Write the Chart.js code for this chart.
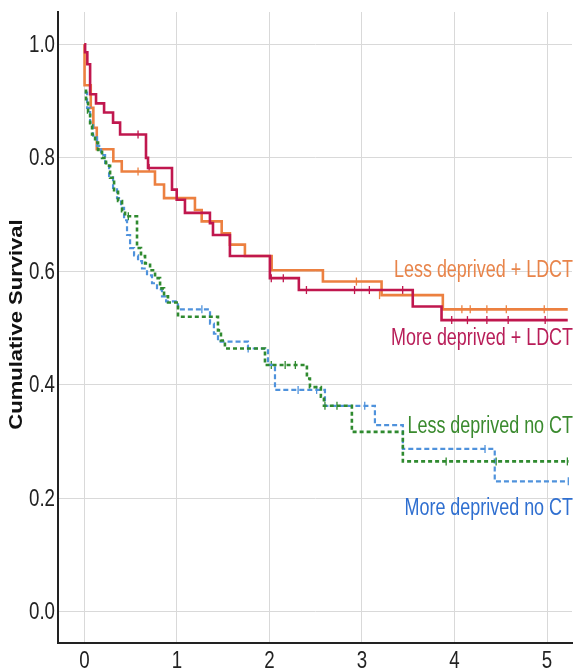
<!DOCTYPE html>
<html>
<head>
<meta charset="utf-8">
<script src="https://cdn.jsdelivr.net/npm/chart.js@4.4.1/dist/chart.umd.min.js"></script>
<style>
  html, body { margin: 0; padding: 0; background: #ffffff; }
  #wrap { width: 578px; height: 668px; }
</style>
</head>
<body>
<div id="wrap"><canvas id="km" width="578" height="668"></canvas></div>
<script>
// Kaplan-Meier survival estimates: event times (years) and survival after each step
const seriesNames = ['Less deprived + LDCT', 'More deprived + LDCT', 'Less deprived no CT', 'More deprived no CT'];

const lessLdctTime = [0, 0.002, 0.069, 0.097, 0.134, 0.313, 0.404, 0.763, 0.861, 1.195, 1.268, 1.484, 1.573, 1.735, 2.024, 2.578, 3.212, 3.874, 5.224];
const lessLdctSurv = [1.0, 0.928, 0.888, 0.853, 0.815, 0.794, 0.776, 0.753, 0.729, 0.708, 0.688, 0.667, 0.647, 0.627, 0.602, 0.582, 0.558, 0.533, 0.533];

const moreLdctTime = [0, 0.008, 0.032, 0.062, 0.126, 0.213, 0.310, 0.386, 0.666, 0.688, 0.947, 0.998, 1.087, 1.357, 1.390, 1.573, 2.005, 2.318, 3.549, 3.860, 5.224];
const moreLdctSurv = [1.0, 0.986, 0.965, 0.912, 0.896, 0.880, 0.862, 0.841, 0.800, 0.782, 0.744, 0.726, 0.703, 0.685, 0.664, 0.627, 0.588, 0.567, 0.538, 0.514, 0.514];

const lessNoCtTime = [0.003, 0.018, 0.040, 0.062, 0.083, 0.116, 0.148, 0.191, 0.234, 0.278, 0.321, 0.364, 0.407, 0.440, 0.569, 0.612, 0.656, 0.710, 0.764, 0.818, 0.861, 0.904, 1.012, 1.444, 1.476, 1.519, 1.952, 2.405, 2.438, 2.556, 2.589, 2.891, 3.442, 5.234];
const lessNoCtSurv = [0.918, 0.897, 0.880, 0.857, 0.841, 0.827, 0.814, 0.800, 0.786, 0.765, 0.743, 0.724, 0.706, 0.697, 0.641, 0.627, 0.614, 0.602, 0.588, 0.570, 0.556, 0.545, 0.520, 0.496, 0.478, 0.464, 0.435, 0.411, 0.396, 0.379, 0.363, 0.317, 0.265, 0.265];

const moreNoCtTime = [0.003, 0.029, 0.062, 0.094, 0.137, 0.180, 0.224, 0.267, 0.310, 0.353, 0.396, 0.429, 0.461, 0.494, 0.537, 0.580, 0.623, 0.677, 0.731, 0.785, 0.839, 0.883, 1.012, 1.358, 1.400, 1.444, 1.768, 1.984, 2.060, 2.600, 3.140, 3.442, 4.435, 5.234];
const moreNoCtSurv = [0.915, 0.888, 0.862, 0.839, 0.821, 0.805, 0.791, 0.768, 0.747, 0.729, 0.712, 0.690, 0.664, 0.641, 0.628, 0.618, 0.605, 0.593, 0.579, 0.568, 0.556, 0.547, 0.533, 0.508, 0.490, 0.476, 0.464, 0.435, 0.391, 0.363, 0.329, 0.287, 0.230, 0.230];

// Censored observations (time, survival at that time)
const lessLdctCensT = [0.58, 2.94, 3.19, 4.08, 4.17, 4.35, 4.56, 4.97];
const lessLdctCensS = [0.776, 0.582, 0.558, 0.533, 0.533, 0.533, 0.533, 0.533];
const moreLdctCensT = [0.58, 0.70, 2.02, 2.15, 2.40, 2.92, 3.08, 3.44, 3.97, 4.14, 4.35, 4.58, 4.98];
const moreLdctCensS = [0.841, 0.782, 0.588, 0.588, 0.567, 0.567, 0.567, 0.567, 0.514, 0.514, 0.514, 0.514, 0.514];
const lessNoCtCensT = [0.475, 2.02, 2.17, 2.28, 2.60, 2.73, 3.91, 4.45, 5.22];
const lessNoCtCensS = [0.697, 0.435, 0.435, 0.435, 0.363, 0.363, 0.265, 0.265, 0.265];
const moreNoCtCensT = [1.27, 1.77, 2.31, 2.51, 3.03, 4.33, 5.23];
const moreNoCtCensS = [0.533, 0.464, 0.391, 0.391, 0.363, 0.287, 0.230];

// Tick values and series label anchors
const xTicks = [0, 1, 2, 3, 4, 5];
const yTicks = [0.0, 0.2, 0.4, 0.6, 0.8, 1.0];
const labelAnchorSurv = [0.602, 0.481, 0.326, 0.181];
const yTitle = 'Cumulative Survival';

const colors = ['#ec8040', '#c0174e', '#2f8a2f', '#4f92dc'];
const labelColors = ['#e8844a', '#b81d58', '#3a8a2e', '#2f6fd0'];

function pts(ts, ss) { return ts.map((t, i) => ({ x: t, y: ss[i] })); }

const curveSets = [
  { t: lessNoCtTime, s: lessNoCtSurv, c: colors[2], dash: [4, 3], w: 2.6 },
  { t: moreNoCtTime, s: moreNoCtSurv, c: colors[3], dash: [5, 3], w: 2.2 },
  { t: moreLdctTime, s: moreLdctSurv, c: colors[1], dash: [], w: 2.6 },
  { t: lessLdctTime, s: lessLdctSurv, c: colors[0], dash: [], w: 2.6 }
];
const censSets = [
  { t: lessNoCtCensT, s: lessNoCtCensS, c: colors[2] },
  { t: moreNoCtCensT, s: moreNoCtCensS, c: colors[3] },
  { t: moreLdctCensT, s: moreLdctCensS, c: colors[1] },
  { t: lessLdctCensT, s: lessLdctCensS, c: colors[0] }
];

const datasets = [];
curveSets.forEach(cs => {
  datasets.push({
    type: 'line',
    data: pts(cs.t, cs.s),
    stepped: 'before',       // hold the previous survival until the next event time
    borderColor: cs.c,
    borderWidth: cs.w,
    borderDash: cs.dash,
    pointRadius: 0,
    fill: false
  });
});
censSets.forEach(cs => {
  datasets.push({
    type: 'scatter',
    data: pts(cs.t, cs.s),
    showLine: false,
    pointStyle: 'line',
    rotation: 90,
    pointRadius: 4,
    borderColor: cs.c,
    borderWidth: 1.3,
    backgroundColor: cs.c
  });
});

const FAMILY = '"Liberation Sans", Arial, sans-serif';
const SQUEEZE = 0.78;   // condensed lettering

// Condensed text helper: horizontal squeeze around the anchor
function narrowText(ctx, text, x, y, align) {
  ctx.save();
  ctx.translate(x, y);
  ctx.scale(SQUEEZE, 1);
  ctx.textAlign = align;
  ctx.fillText(text, 0, 0);
  ctx.restore();
}

// Tick labels, axis title and series names, positioned from the chart scales
const chartText = {
  id: 'chartText',
  afterDraw(chart) {
    const { ctx, chartArea, scales } = chart;
    ctx.save();
    ctx.fillStyle = '#222';
    ctx.textBaseline = 'middle';
    ctx.font = '24px ' + FAMILY;
    yTicks.forEach(v => {
      narrowText(ctx, v.toFixed(1), scales.y.left + scales.y.width - 3, scales.y.getPixelForValue(v) + 1, 'right');
    });
    ctx.textBaseline = 'top';
    xTicks.forEach(v => {
      narrowText(ctx, String(v), scales.x.getPixelForValue(v), chartArea.bottom + 6, 'center');
    });

    // rotated axis title
    ctx.save();
    ctx.translate(17, (chartArea.top + chartArea.bottom) / 2 - 3);
    ctx.rotate(-Math.PI / 2);
    ctx.scale(1, 0.82);
    ctx.font = 'bold 22px ' + FAMILY;
    ctx.textAlign = 'center';
    ctx.textBaseline = 'middle';
    ctx.fillStyle = '#111';
    ctx.fillText(yTitle, 0, 0);
    ctx.restore();

    // series names at the right end of each curve
    ctx.font = '23px ' + FAMILY;
    ctx.textBaseline = 'middle';
    seriesNames.forEach((name, i) => {
      ctx.fillStyle = labelColors[i];
      narrowText(ctx, name, chartArea.right + 1, scales.y.getPixelForValue(labelAnchorSurv[i]), 'right');
    });
    ctx.restore();
  }
};

new Chart(document.getElementById('km'), {
  type: 'line',
  data: { datasets },
  options: {
    responsive: false,
    animation: false,
    layout: { padding: { top: 12, right: 6, bottom: 0, left: 0 } },
    plugins: { legend: { display: false }, tooltip: { enabled: false } },
    scales: {
      x: {
        type: 'linear',
        min: -0.285,
        max: 5.27,
        afterBuildTicks(scale) { scale.ticks = xTicks.map(v => ({ value: v })); },
        afterFit(scale) { scale.height = 25; },
        ticks: { display: false },
        grid: { color: '#d9d9d9', lineWidth: 1, drawTicks: false },
        border: { color: '#222', width: 2 }
      },
      y: {
        type: 'linear',
        min: -0.055,
        max: 1.057,
        afterBuildTicks(scale) { scale.ticks = yTicks.map(v => ({ value: v })); },
        afterFit(scale) { scale.width = 58; },
        ticks: { display: false },
        grid: { color: '#d9d9d9', lineWidth: 1, drawTicks: false },
        border: { color: '#222', width: 2 }
      }
    }
  },
  plugins: [chartText]
});
</script>
</body>
</html>
